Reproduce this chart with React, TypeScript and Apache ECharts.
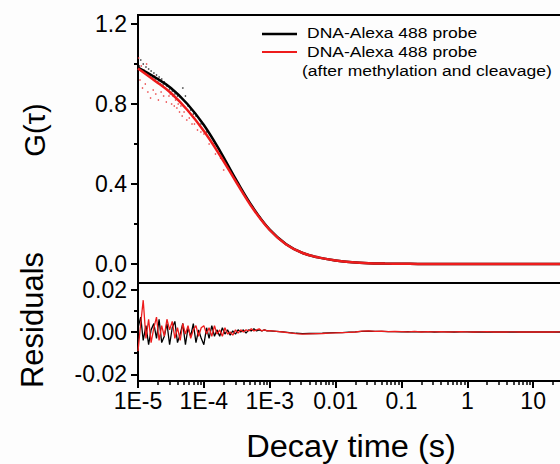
import React, { useEffect, useRef } from "react";
import * as echarts from "echarts";

// ---- Fitted curves G(tau) ----
const fitTime = [
  1e-5, 1.78e-5, 3.16e-5, 5.62e-5, 1e-4, 1.78e-4, 3.16e-4, 5.62e-4, 1e-3, 1.78e-3,
  3.16e-3, 5.62e-3, 1e-2, 1.78e-2, 3.16e-2, 5.62e-2, 0.1, 0.178, 0.316, 0.562,
  1, 1.78, 3.16, 5.62, 10, 17.8, 31.6, 56.2, 100,
];
const fitBlack = [
  0.982, 0.935, 0.88, 0.8, 0.695, 0.562, 0.415, 0.28, 0.172, 0.099,
  0.055, 0.032, 0.018, 0.009, 0.004, 0.002, 0.001, 0.0005, 0.0002, 0,
  0, 0, 0, 0, 0, 0, 0, 0, 0,
];
const fitRed = [
  0.978, 0.918, 0.855, 0.77, 0.665, 0.54, 0.405, 0.275, 0.17, 0.098,
  0.055, 0.032, 0.018, 0.009, 0.004, 0.002, 0.001, 0.0005, 0.0002, 0,
  0, 0, 0, 0, 0, 0, 0, 0, 0,
];

// ---- Raw data dots (early lag times) ----
const dotTimeBlack = [
  1.05e-5, 1.1e-5, 1.15e-5, 1.2e-5, 1.26e-5, 1.32e-5, 1.38e-5, 1.45e-5, 1.51e-5, 1.58e-5,
  1.66e-5, 1.74e-5, 1.82e-5, 1.91e-5, 2.0e-5, 2.09e-5, 2.19e-5, 2.29e-5, 2.4e-5, 2.51e-5,
  2.75e-5, 3.02e-5, 3.31e-5, 3.63e-5, 3.98e-5, 4.37e-5, 4.79e-5, 5.25e-5, 5.75e-5, 6.31e-5,
  6.92e-5, 7.59e-5, 9.0e-5, 1.1e-4, 1.4e-4, 1.8e-4, 2.5e-4, 4.0e-4, 7.0e-4,
];
const dotBlack = [
  0.99, 1.02, 0.97, 1.0, 0.96, 0.985, 0.95, 0.975, 0.94, 0.965,
  0.93, 0.955, 0.925, 0.945, 0.91, 0.935, 0.9, 0.925, 0.895, 0.91,
  0.89, 0.875, 0.865, 0.85, 0.84, 0.835, 0.88, 0.84, 0.79, 0.77,
  0.75, 0.74, 0.7, 0.66, 0.6, 0.53, 0.47, 0.35, 0.235,
];
const dotTimeRed = [
  1.02e-5, 1.07e-5, 1.12e-5, 1.17e-5, 1.23e-5, 1.29e-5, 1.35e-5, 1.41e-5, 1.48e-5, 1.55e-5,
  1.62e-5, 1.7e-5, 1.78e-5, 1.86e-5, 1.95e-5, 2.04e-5, 2.14e-5, 2.24e-5, 2.34e-5, 2.45e-5,
  2.57e-5, 2.69e-5, 2.82e-5, 2.95e-5, 3.09e-5, 3.24e-5, 3.39e-5, 3.55e-5, 3.72e-5, 3.89e-5,
  4.07e-5, 4.27e-5, 4.47e-5, 4.68e-5, 5.0e-5, 5.5e-5, 6.0e-5, 6.6e-5, 7.2e-5, 8.0e-5,
  9.0e-5, 1.0e-4, 1.2e-4, 1.5e-4, 2.0e-4, 3.0e-4, 5.0e-4, 8.0e-4,
];
const dotRed = [
  1.03, 0.92, 0.99, 0.88, 0.97, 0.9, 1.0, 0.86, 0.95, 0.83,
  0.93, 0.87, 0.94, 0.85, 0.91, 0.82, 0.9, 0.86, 0.89, 0.84,
  0.88, 0.81, 0.87, 0.84, 0.85, 0.8, 0.84, 0.79, 0.82, 0.78,
  0.8, 0.76, 0.79, 0.74, 0.76, 0.72, 0.73, 0.7, 0.7, 0.67,
  0.66, 0.65, 0.6, 0.55, 0.47, 0.42, 0.3, 0.21,
];

// ---- Residuals ----
const residTime = [
  1.00e-5, 1.10e-5, 1.20e-5, 1.32e-5, 1.45e-5, 1.58e-5, 1.74e-5, 1.91e-5, 2.09e-5, 2.29e-5,
  2.51e-5, 2.75e-5, 3.02e-5, 3.31e-5, 3.63e-5, 3.98e-5, 4.37e-5, 4.79e-5, 5.25e-5, 5.75e-5,
  6.31e-5, 6.92e-5, 7.59e-5, 8.32e-5, 9.12e-5,
  1.00e-4, 1.10e-4, 1.20e-4, 1.32e-4, 1.45e-4, 1.58e-4, 1.74e-4, 1.91e-4, 2.09e-4, 2.29e-4,
  2.51e-4, 2.75e-4, 3.02e-4, 3.31e-4, 3.63e-4, 3.98e-4, 4.37e-4, 4.79e-4, 5.25e-4, 5.75e-4,
  6.31e-4, 6.92e-4, 7.59e-4, 8.32e-4, 9.12e-4,
  1.00e-3, 1.26e-3, 1.58e-3, 2.00e-3, 2.51e-3, 3.16e-3, 3.98e-3, 5.01e-3, 6.31e-3, 7.94e-3,
  1.00e-2, 1.26e-2, 1.58e-2, 2.00e-2, 2.51e-2, 3.16e-2, 3.98e-2, 5.01e-2, 6.31e-2, 7.94e-2,
  0.100, 0.126, 0.158, 0.200, 0.251, 0.316, 0.398, 0.501, 0.631, 0.794,
  1.00, 1.26, 1.58, 2.00, 2.51, 3.16, 3.98, 5.01, 6.31, 7.94,
  10.0, 12.6, 15.8, 20.0, 25.1, 31.6, 39.8, 50.1, 63.1, 79.4, 100,
];
const residBlack = [
  0.002, 0.007, -0.004, 0.003, -0.006, 0.001, 0.004, -0.003, 0.006, -0.005,
  -0.002, 0.004, -0.006, 0.002, 0.005, -0.005, -0.001, 0.004, -0.006, 0.002,
  -0.002, 0.004, -0.005, 0.001, -0.003,
  -0.006, 0.002, -0.003, 0.003, -0.002, 0.001, -0.002, 0.002, -0.001, 0.001,
  -0.0015, 0.0005, -0.001, 0.001, 0, 0.001, -0.0005, 0.001, 0.0005, 0.0015,
  0.0005, 0.001, 0.0005, 0.001, 0.0005,
  0.0005, 0.0003, 0.0001, -0.0003, -0.0006, -0.0008, -0.0007, -0.0007, -0.0006, -0.0004,
  -0.0003, -0.0003, -0.0001, 0.0001, 0.0003, 0.0004, 0.0003, 0.0003, 0.0002, 0.0002,
  0.0001, 0.0002, 0.0001, 0.0001, 0.0002, 0, 0.0001, 0.0001, 0, 0.0001,
  0.0001, 0, 0, 0.0001, 0, 0.0001, 0, 0, 0.0001, 0,
  0, 0, 0.0001, 0, 0, 0, 0.0001, 0, 0, 0, 0,
];
const residRed = [
  -0.009, 0.004, 0.015, -0.003, 0.006, -0.005, 0.002, 0.007, -0.004, 0.003,
  -0.002, 0.006, 0.001, 0.005, -0.003, 0.002, -0.004, 0.004, -0.001, 0.003,
  -0.003, 0.001, 0.003, -0.002, 0.002,
  0.003, -0.001, 0.002, -0.002, 0.003, -0.001, 0.001, -0.002, 0.002, -0.001,
  0, -0.0015, 0.001, -0.0005, 0.001, 0, 0.001, 0.0005, 0.0015, 0.0005,
  0.001, 0.0015, 0.0005, 0.001, 0.0005,
  0.0006, 0.0003, 0, -0.0004, -0.0008, -0.001, -0.0009, -0.0008, -0.0007, -0.0005,
  -0.0004, -0.0003, -0.0002, 0, 0.0004, 0.0005, 0.0003, 0.0004, 0.0002, 0.0003,
  0.0002, 0.0001, 0.0003, 0, 0.0002, 0.0001, 0.0002, 0, 0.0001, 0.0002,
  0.0001, 0, 0.0001, 0.0002, 0, 0.0001, 0, 0.0001, 0, 0.0001,
  0, 0.0001, 0, 0, 0.0001, 0, 0, 0.0001, 0, 0, 0,
];

// ---- Axis ticks / labels ----
const xTickLabels: Record<string, string> = {
  "-5": "1E-5", "-4": "1E-4", "-3": "1E-3", "-2": "0.01", "-1": "0.1", "0": "1", "1": "10",
};
const xDecades = [1e-5, 1e-4, 1e-3, 1e-2, 1e-1, 1, 10];
const xMinorMult = [2, 3, 4, 5, 6, 7, 8, 9];
const gTicks = [0, 0.4, 0.8, 1.2];
const gMinorTicks = [0.2, 0.6, 1.0];
const rTicks = [-0.02, 0, 0.02];
const rMinorTicks = [-0.01, 0.01];
const legendNames = ["DNA-Alexa 488 probe", "DNA-Alexa 488 probe", "(after methylation and cleavage)"];
const axisTitles = { g: "G(τ)", r: "Residuals", x: "Decay time (s)" };

const FONT = "'Liberation Sans', Arial, sans-serif";
const RED = "#ee1c1c";

const pairs = (xs: number[], ys: number[]) => xs.map((x, i) => [x, ys[i]]);

export default function App() {
  const ref = useRef<HTMLDivElement>(null);
  useEffect(() => {
    if (!ref.current) return;
    const chart = echarts.init(ref.current, null, { renderer: "svg" });
    // minor tick positions (log10 units) for a linear helper axis spanning the same decades
    const xMinorLog: number[] = [];
    xDecades.forEach((d) => xMinorMult.forEach((m) => xMinorLog.push(Math.log10(m * d))));

    const xMin = 1e-5;
    const xMax = 100;
    const gridCommon = {
      left: 138, right: 1, show: true, borderColor: "#000", borderWidth: 2,
      backgroundColor: "transparent", outerBoundsMode: "none", containLabel: false,
    };
    const labelStyle = { color: "#000", fontFamily: FONT, fontSize: 23 };
    const noZero = { onZero: false };

    chart.setOption({
      animation: false,
      backgroundColor: "#fdfdfd",
      grid: [
        { ...gridCommon, top: 15, height: 268 },
        { ...gridCommon, top: 283, height: 98 },
      ],
      xAxis: [
        {
          type: "log", gridIndex: 0, min: xMin, max: xMax, logBase: 10,
          axisLine: { show: false, ...noZero }, axisTick: { show: false }, axisLabel: { show: false }, splitLine: { show: false },
        },
        {
          type: "log", gridIndex: 1, min: xMin, max: xMax, logBase: 10, position: "bottom",
          axisLine: { show: true, ...noZero, lineStyle: { color: "#000", width: 2 } },
          axisTick: { show: true, length: 7, lineStyle: { color: "#000", width: 2 } },
          axisLabel: {
            ...labelStyle, margin: 8, showMaxLabel: false,
            formatter: (v: number) => xTickLabels[String(Math.round(Math.log10(v)))] ?? "",
          },
          splitLine: { show: false },
        },
        {
          type: "value", gridIndex: 1, min: -5, max: 2, position: "bottom",
          axisLine: { show: false, ...noZero },
          axisTick: { show: true, length: 4, customValues: xMinorLog, lineStyle: { color: "#000", width: 1.5 } },
          axisLabel: { show: false },
          splitLine: { show: false },
        },
      ],
      yAxis: [
        {
          type: "value", gridIndex: 0, min: -0.095, max: 1.245, position: "left",
          axisLine: { show: true, ...noZero, lineStyle: { color: "#000", width: 2 } },
          axisTick: { show: true, length: 7, customValues: gTicks, lineStyle: { color: "#000", width: 2 } },
          axisLabel: { ...labelStyle, margin: 11, customValues: gTicks, formatter: (v: number) => v.toFixed(1) },
          splitLine: { show: false },
        },
        {
          type: "value", gridIndex: 0, min: -0.095, max: 1.245, position: "left",
          axisLine: { show: false, ...noZero },
          axisTick: { show: true, length: 4, customValues: gMinorTicks, lineStyle: { color: "#000", width: 2 } },
          axisLabel: { show: false },
          splitLine: { show: false },
        },
        {
          type: "value", gridIndex: 1, min: -0.0231, max: 0.0231, position: "left",
          axisLine: { show: true, ...noZero, lineStyle: { color: "#000", width: 2 } },
          axisTick: { show: true, length: 7, customValues: rTicks, lineStyle: { color: "#000", width: 2 } },
          axisLabel: { ...labelStyle, margin: 11, customValues: rTicks, formatter: (v: number) => v.toFixed(2) },
          splitLine: { show: false },
        },
        {
          type: "value", gridIndex: 1, min: -0.0231, max: 0.0231, position: "left",
          axisLine: { show: false, ...noZero },
          axisTick: { show: true, length: 4, customValues: rMinorTicks, lineStyle: { color: "#000", width: 2 } },
          axisLabel: { show: false },
          splitLine: { show: false },
        },
      ],
      series: [
        {
          type: "scatter", xAxisIndex: 0, yAxisIndex: 0, data: pairs(dotTimeBlack, dotBlack),
          symbolSize: 1.6, itemStyle: { color: "#222", opacity: 0.8 }, z: 2,
        },
        {
          type: "scatter", xAxisIndex: 0, yAxisIndex: 0, data: pairs(dotTimeRed, dotRed),
          symbolSize: 1.6, itemStyle: { color: "#e8373a", opacity: 0.8 }, z: 2,
        },
        {
          type: "line", xAxisIndex: 0, yAxisIndex: 0, data: pairs(fitTime, fitBlack), smooth: 0.4,
          showSymbol: false, lineStyle: { color: "#000", width: 2.5 }, z: 3,
        },
        {
          type: "line", xAxisIndex: 0, yAxisIndex: 0, data: pairs(fitTime, fitRed), smooth: 0.4,
          showSymbol: false, lineStyle: { color: RED, width: 2.5 }, z: 4,
        },
        {
          type: "line", xAxisIndex: 1, yAxisIndex: 2, data: pairs(residTime, residBlack),
          showSymbol: false, lineStyle: { color: "#000", width: 1.3 }, z: 3,
        },
        {
          type: "line", xAxisIndex: 1, yAxisIndex: 2, data: pairs(residTime, residRed),
          showSymbol: false, lineStyle: { color: RED, width: 1.3 }, z: 4,
        },
      ],
      graphic: [
        { type: "line", shape: { x1: 262, y1: 34, x2: 297, y2: 34 }, style: { stroke: "#000", lineWidth: 2.5 } },
        {
          type: "text", x: 307, y: 33, scaleX: 1.13,
          style: { text: legendNames[0], fill: "#000", font: `15.5px ${FONT}`, textAlign: "left", textVerticalAlign: "middle" },
        },
        { type: "line", shape: { x1: 262, y1: 52, x2: 297, y2: 52 }, style: { stroke: RED, lineWidth: 2 } },
        {
          type: "text", x: 307, y: 52, scaleX: 1.13,
          style: { text: legendNames[1], fill: "#000", font: `15.5px ${FONT}`, textAlign: "left", textVerticalAlign: "middle" },
        },
        {
          type: "text", x: 302, y: 71, scaleX: 1.13,
          style: { text: legendNames[2], fill: "#000", font: `15.5px ${FONT}`, textAlign: "left", textVerticalAlign: "middle" },
        },
        {
          type: "text", x: 35, y: 130, rotation: Math.PI / 2,
          style: { text: axisTitles.g, fill: "#000", font: `29px ${FONT}`, textAlign: "center", textVerticalAlign: "middle" },
        },
        {
          type: "text", x: 32, y: 320, rotation: Math.PI / 2,
          style: { text: axisTitles.r, fill: "#000", font: `31px ${FONT}`, textAlign: "center", textVerticalAlign: "middle" },
        },
        {
          type: "text", x: 351, y: 446, scaleX: 1.05,
          style: { text: axisTitles.x, fill: "#000", font: `31px ${FONT}`, textAlign: "center", textVerticalAlign: "middle" },
        },
      ],
    });
    return () => chart.dispose();
  }, []);
  return (
    <div style={{ position: "absolute", left: 0, top: 0, width: 560, height: 464, overflow: "hidden" }}>
      <div ref={ref} style={{ width: 600, height: 464 }} />
    </div>
  );
}
